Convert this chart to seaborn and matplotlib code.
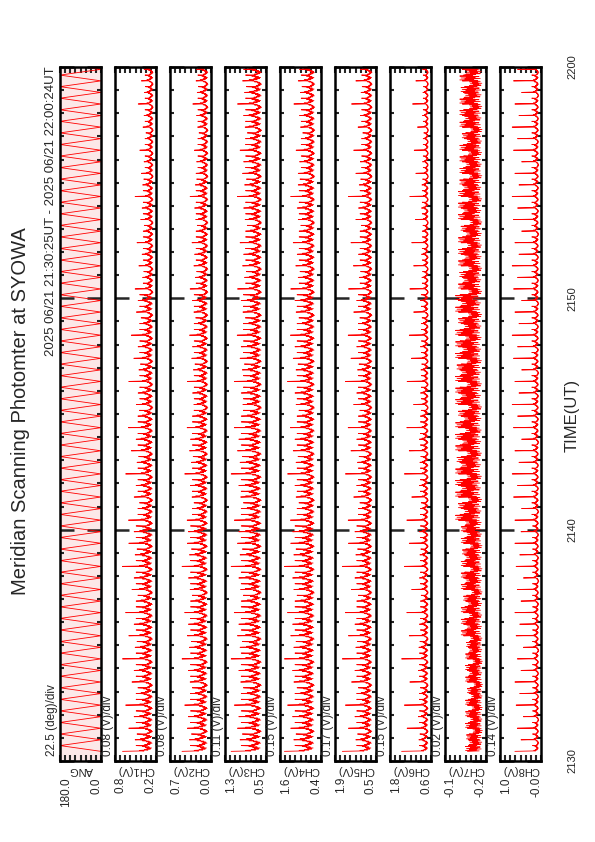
import numpy as np
import pandas as pd
import matplotlib
matplotlib.use("Agg")
import matplotlib.pyplot as plt
import seaborn as sns

sns.set_style("white")
plt.rcParams['font.family'] = ['Liberation Sans', 'DejaVu Sans']

# -----------------------------------------------------------
# DATA (minutes after 21:30 UT)

t_first = 25 / 60          # 21:30:25
t_last = 30 + 24 / 60      # 22:00:24
n_sweeps = 120

# angles sampled along one meridian sweep (deg)
scan_angles = [0, 15, 30, 45, 60, 75, 90, 105, 120, 135, 150, 165, 180]

panel_names = ["ANG", "CH1(V)", "CH2(V)", "CH3(V)", "CH4(V)",
               "CH5(V)", "CH6(V)", "CH7(V)", "CH8(V)"]
per_div = ["22.5 (deg)/div", "0.08 (V)/div", "0.08 (V)/div", "0.11 (V)/div",
           "0.15 (V)/div", "0.17 (V)/div", "0.15 (V)/div", "0.02 (V)/div",
           "0.14 (V)/div"]
top_labels = ["180.0", "0.8", "0.7", "1.3", "1.6", "1.9", "1.8", "-0.1", "1.0"]
bot_labels = ["0.0", "0.2", "0.0", "0.5", "0.4", "0.5", "0.6", "-0.2", "-0.0"]
v_max = [180.0, 0.8, 0.7, 1.3, 1.6, 1.9, 1.8, -0.05, 1.05]
v_min = [0.0, 0.2, 0.0, 0.5, 0.4, 0.5, 0.6, -0.2, -0.04]
time_ticks = [0, 10, 20, 30]
time_labels = ["2130", "2140", "2150", "2200"]

# per channel: floor of the trace, usual jag height, long spike height (V)
ch_base = [0.23, 0.035, 0.56, 0.55, 0.60, 0.66, -0.193, 0.006]
ch_spread = [0.29, 0.35, 0.47, 0.68, 0.62, 0.31, 0.110, 0.22]
ch_spike = [0.46, 0.46, 0.62, 0.92, 1.05, 0.80, 0.135, 0.72]

# jag shape inside one sweep (fraction of the jag height)
sweep_shape = [1.00, 0.50, 0.72, 0.30, 0.48, 0.18, 0.36, 0.12, 0.42, 0.24, 0.58, 0.40, 0.90]
ch7_shape = [0.85, 0.25, 0.95, 0.40, 0.75, 0.15, 0.90, 0.35, 0.70, 0.20, 0.95, 0.45, 0.80]

# sweep-to-sweep gain; > 1 marks the sweeps with a long spike
sweep_gain = [2.0, 0.8, 0.95, 0.6, 1.6, 0.75, 1.0, 0.65, 1.8, 0.7, 0.9, 0.55,
              1.4, 0.8, 1.0, 0.6]
ch8_gain = [2.0, 0.6, 1.5, 0.7, 1.8, 0.5, 1.3, 0.8, 1.9, 0.6, 1.6, 0.7]

# slow change along the half hour, one value per 5 minutes
ch_block = [
    [1.0, 1.0, 0.9, 0.8, 0.6, 0.5],     # CH1
    [1.0, 1.0, 0.9, 0.8, 0.7, 0.6],     # CH2
    [1.0, 1.0, 1.0, 0.9, 0.8, 0.8],     # CH3
    [1.0, 1.0, 0.9, 0.9, 0.8, 0.7],     # CH4
    [1.0, 1.0, 0.9, 0.9, 0.8, 0.7],     # CH5
    [1.0, 0.9, 0.9, 0.8, 0.7, 0.6],     # CH6
    [0.65, 0.8, 1.0, 1.0, 0.9, 0.85],   # CH7
    [0.9, 0.9, 1.0, 1.0, 1.0, 1.0],     # CH8
]

# -----------------------------------------------------------
# BUILD THE SWEEP TABLE

dt = (t_last - t_first) / n_sweeps
rows = []
for k in range(n_sweeps):
    fwd = k % 2 == 0
    order = range(len(scan_angles)) if fwd else range(len(scan_angles) - 1, -1, -1)
    b = min(int((t_first + k * dt) // 5), 5)
    for j in order:
        a = scan_angles[j]
        frac = a / 180 if fwd else 1 - a / 180
        row = {"time": t_first + (k + frac) * dt, "ANG": float(a)}
        for c, name in enumerate(panel_names[1:]):
            gains = ch8_gain if name == "CH8(V)" else sweep_gain
            g = gains[k % len(gains)]
            shape = ch7_shape if name == "CH7(V)" else sweep_shape
            if g > 1 and j == 0 and name != "CH7(V)":
                amp = ch_spike[c] * ch_block[c][b] * g / 2.0
            else:
                amp = ch_spread[c] * ch_block[c][b] * min(g, 1.0)
            row[name] = ch_base[c] + amp * shape[j]
        rows.append(row)
df = pd.DataFrame(rows)

# -----------------------------------------------------------
# PLOT

W, H = 595, 842
top_px, bot_px = 67, 761
fig = plt.figure(figsize=(W / 100, H / 100), dpi=100)

for i, name in enumerate(panel_names):
    left = 60 + 55 * i
    ax = fig.add_axes([left / W, 1 - bot_px / H, 41 / W, (bot_px - top_px) / H])
    if i == 0:
        ax.set_facecolor("#fce8e8")
    sns.lineplot(data=df, x=name, y="time", orient="y", sort=False,
                 estimator=None, color="#ff0000", lw=0.6, ax=ax)
    ax.set_xlim(v_max[i], v_min[i])
    ax.set_ylim(0, 30)
    for s in ax.spines.values():
        s.set_linewidth(1.8)
        s.set_color("black")

    ax.set_yticks(time_ticks)
    ax.set_yticks(np.arange(0, 31, 1), minor=True)
    ax.tick_params(axis="y", which="major", direction="in", length=10, width=1.8,
                   left=True, right=True, labelleft=False, labelright=False)
    ax.tick_params(axis="y", which="minor", direction="in", length=3, width=1.5,
                   left=True, right=True)
    ax.set_xticks(np.linspace(v_min[i], v_max[i], 9))
    ax.tick_params(axis="x", which="major", direction="in", length=4, width=1.5,
                   top=True, bottom=True, labelbottom=False)
    ax.set_xlabel("")
    ax.set_ylabel("")

    # labels under the panel (the page is turned)
    x0 = left / W
    x1 = (left + 41) / W
    xm = (left + 20.5) / W
    fig.text(x0 + 6 / W, 1 - 777 / H, top_labels[i], rotation=90, ha="center",
             va="top", fontsize=8.5)
    fig.text(x1 - 5 / W, 1 - 777 / H, bot_labels[i], rotation=90, ha="center",
             va="top", fontsize=8.5)
    fig.text(xm, 1 - 770 / H, name, rotation=180, ha="center", va="center",
             fontsize=8)
    fig.text(x0 - 7.5 / W, 1 - 756 / H, per_div[i], rotation=90, ha="center",
             va="bottom", fontsize=8.5)

    if i == len(panel_names) - 1:
        ax.set_yticklabels(time_labels, rotation=90, va="center", fontsize=8)
        ax.tick_params(axis="y", which="major", labelright=True, pad=19)

fig.text(51 / W, 1 - 66 / H, "2025 06/21 21:30:25UT - 2025 06/21 22:00:24UT",
         rotation=90, ha="center", va="top", fontsize=9.5)
fig.text(21 / W, 1 - 411 / H, "Meridian Scanning Photomter at SYOWA",
         rotation=90, ha="center", va="center", fontsize=14.5)
fig.text(572 / W, 1 - 415 / H, "TIME(UT)", rotation=90, ha="center",
         va="center", fontsize=12)

fig.savefig("out.png", dpi=100)
